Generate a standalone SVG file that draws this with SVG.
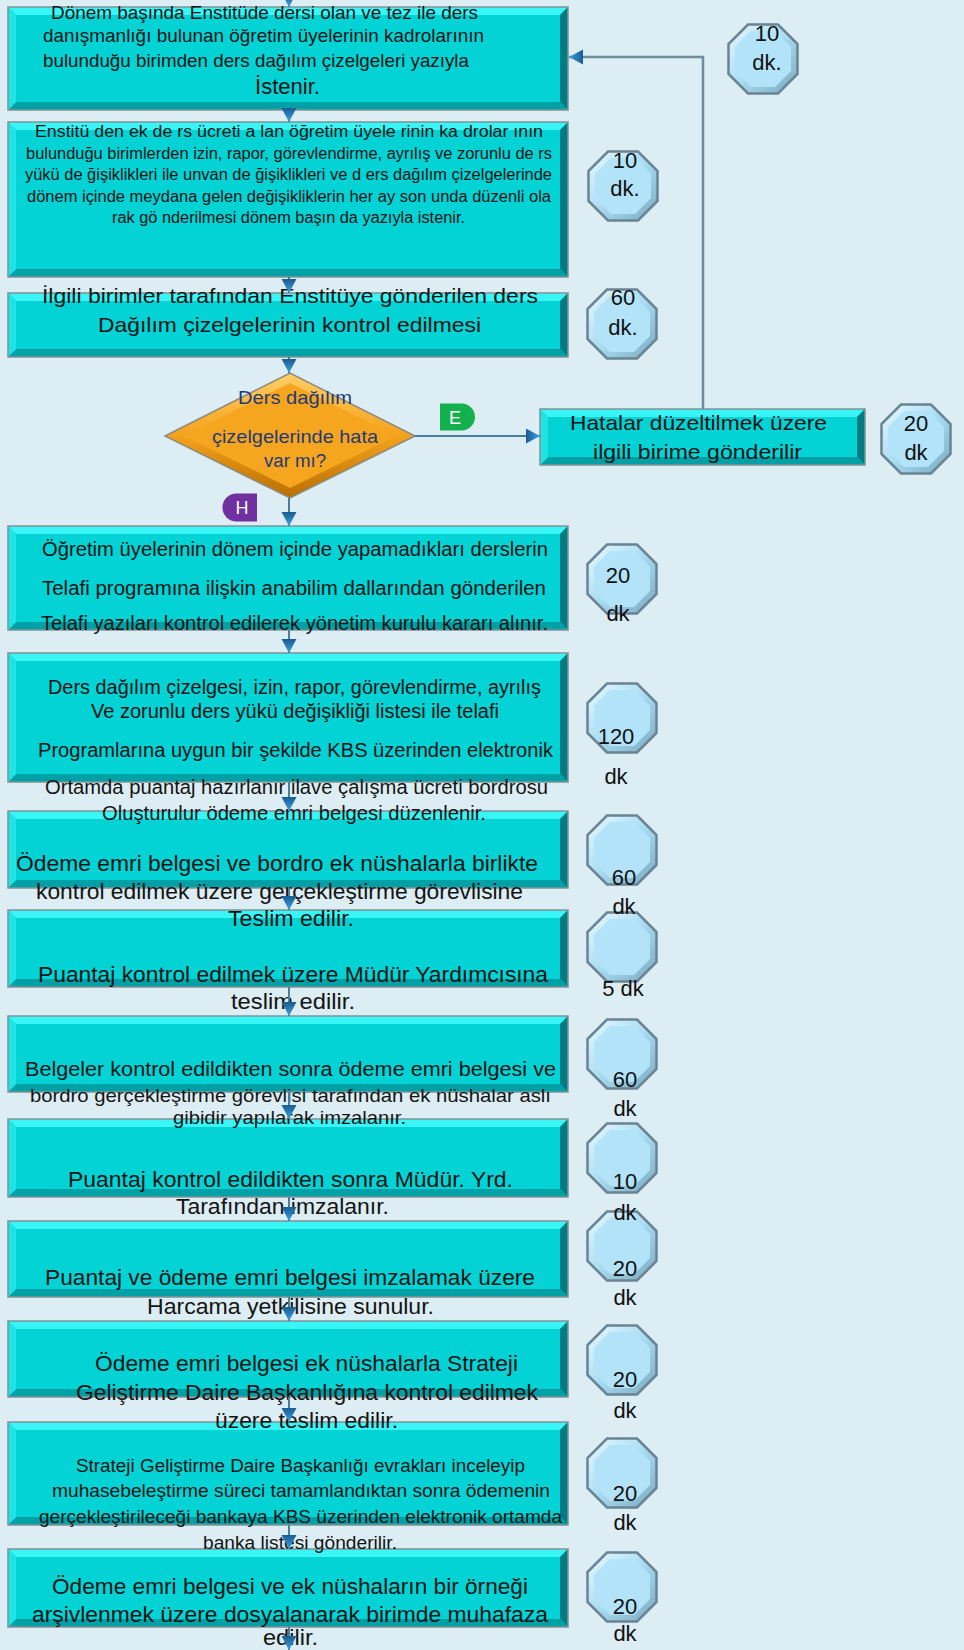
<svg xmlns="http://www.w3.org/2000/svg" xmlns:xlink="http://www.w3.org/1999/xlink" width="964" height="1650" viewBox="0 0 964 1650">
<defs>
<style>
.bx{fill:#03d3d5;}
.bo{fill:none;stroke:#7f9497;stroke-width:1.5;}
.bt{fill:#3af5f6;}
.bl{fill:#1ee4e6;}
.br{fill:#007d83;}
.bb{fill:#00a1a6;}
.t{font-family:"Liberation Sans",Arial,sans-serif;fill:#141414;dominant-baseline:central;}
.ot{font-family:"Liberation Sans",Arial,sans-serif;fill:#111;font-size:22px;text-anchor:middle;dominant-baseline:central;}
.c{fill:none;stroke:#4a7c9c;stroke-width:2;marker-end:url(#ah);}
.lbl{font-family:"Liberation Sans",Arial,sans-serif;fill:#fff;font-size:18px;text-anchor:middle;dominant-baseline:central;}
</style>
<linearGradient id="octG" x1="0" y1="0" x2="1" y2="1">
<stop offset="0" stop-color="#eafaff"/>
<stop offset="0.5" stop-color="#a8dcf2"/>
<stop offset="1" stop-color="#78a8bd"/>
</linearGradient>
<linearGradient id="dmG" x1="0" y1="0" x2="0" y2="1">
<stop offset="0" stop-color="#ffcf66"/>
<stop offset="0.5" stop-color="#f5a21c"/>
<stop offset="1" stop-color="#b96f00"/>
</linearGradient>
<linearGradient id="ahG" x1="0" y1="0" x2="1" y2="0">
<stop offset="0" stop-color="#1a5c92"/>
<stop offset="1" stop-color="#3aa2e0"/>
</linearGradient>
<marker id="ah" markerUnits="userSpaceOnUse" markerWidth="16" markerHeight="16" refX="14" refY="7.5" orient="auto">
<path d="M0,0 L14,7.5 L0,15 z" fill="url(#ahG)"/>
</marker>
<symbol id="oct" viewBox="0 0 72 72">
<polygon points="21,1.5 51,1.5 70.5,21 70.5,51 51,70.5 21,70.5 1.5,51 1.5,21" fill="url(#octG)" stroke="#6a8494" stroke-width="2.5"/>
<polygon points="24,8 48,8 64,24 64,48 48,64 24,64 8,48 8,24" fill="#b2e3f8"/>
</symbol>
</defs>
<rect width="964" height="1650" fill="#dcedf3"/>

<g id="time-13"><use xlink:href="#oct" x="586" y="1551" width="72" height="72"/><text class="ot" x="625" y="1606">20</text><text class="ot" x="625" y="1633">dk</text></g>
<g id="time-12"><use xlink:href="#oct" x="586" y="1437" width="72" height="72"/><text class="ot" x="625" y="1493">20</text><text class="ot" x="625" y="1522">dk</text></g>
<g id="time-11"><use xlink:href="#oct" x="586" y="1324" width="72" height="72"/><text class="ot" x="625" y="1379">20</text><text class="ot" x="625" y="1410">dk</text></g>
<g id="time-10"><use xlink:href="#oct" x="586" y="1210" width="72" height="72"/><text class="ot" x="625" y="1268">20</text><text class="ot" x="625" y="1297">dk</text></g>
<g id="time-9"><use xlink:href="#oct" x="586" y="1122" width="72" height="72"/><text class="ot" x="625" y="1181">10</text><text class="ot" x="625" y="1212">dk</text></g>
<g id="time-8"><use xlink:href="#oct" x="586" y="1018" width="72" height="72"/><text class="ot" x="625" y="1079">60</text><text class="ot" x="625" y="1108">dk</text></g>
<g id="time-7"><use xlink:href="#oct" x="586" y="911" width="72" height="72"/><text class="ot" x="623" y="988">5 dk</text></g>
<g id="time-6"><use xlink:href="#oct" x="586" y="814" width="72" height="72"/><text class="ot" x="624" y="877">60</text><text class="ot" x="624" y="906">dk</text></g>
<g id="time-5"><use xlink:href="#oct" x="586" y="682" width="72" height="72"/><text class="ot" x="616" y="736">120</text><text class="ot" x="616" y="776">dk</text></g>
<g id="time-4"><use xlink:href="#oct" x="586" y="543" width="72" height="72"/><text class="ot" x="618" y="575">20</text><text class="ot" x="618" y="613">dk</text></g>
<g id="time-err"><use xlink:href="#oct" x="880" y="403" width="72" height="72"/><text class="ot" x="916" y="423">20</text><text class="ot" x="916" y="452">dk</text></g>
<g id="time-3"><use xlink:href="#oct" x="586" y="287" width="72" height="74"/><text class="ot" x="623" y="297">60</text><text class="ot" x="623" y="327">dk.</text></g>
<g id="time-2"><use xlink:href="#oct" x="587" y="150" width="72" height="72"/><text class="ot" x="625" y="160">10</text><text class="ot" x="625" y="188">dk.</text></g>
<g id="time-1"><use xlink:href="#oct" x="727" y="23" width="72" height="72"/><text class="ot" x="767" y="33">10</text><text class="ot" x="767" y="62">dk.</text></g>

<g id="step-13">
<rect class="bx" x="8" y="1549" width="560" height="78"/>
<path class="bt" d="M8,1549h560l-8,8h-544z"/><path class="br" d="M568,1549v78l-8,-8v-62z"/><path class="bb" d="M8,1627h560l-8,-8h-544z"/><path class="bl" d="M8,1549v78l8,-8v-62z"/>
<rect class="bo" x="8" y="1549" width="560" height="78"/>
<text class="t" font-size="21.5" x="52" y="1587" textLength="476" lengthAdjust="spacingAndGlyphs">Ödeme emri belgesi ve ek nüshaların bir örneği</text>
<text class="t" font-size="21.5" x="32" y="1615" textLength="516" lengthAdjust="spacingAndGlyphs">arşivlenmek üzere dosyalanarak birimde muhafaza</text>
<text class="t" font-size="21.5" x="263" y="1638" textLength="55" lengthAdjust="spacingAndGlyphs">edilir.</text>
</g>
<g id="step-12">
<rect class="bx" x="8" y="1422" width="560" height="103"/>
<path class="bt" d="M8,1422h560l-8,8h-544z"/><path class="br" d="M568,1422v103l-8,-8v-87z"/><path class="bb" d="M8,1525h560l-8,-8h-544z"/><path class="bl" d="M8,1422v103l8,-8v-87z"/>
<rect class="bo" x="8" y="1422" width="560" height="103"/>
<text class="t" font-size="17.5" x="76" y="1466" textLength="449" lengthAdjust="spacingAndGlyphs">Strateji Geliştirme Daire Başkanlığı evrakları inceleyip</text>
<text class="t" font-size="17.5" x="52" y="1491" textLength="498" lengthAdjust="spacingAndGlyphs">muhasebeleştirme süreci tamamlandıktan sonra ödemenin</text>
<text class="t" font-size="17.5" x="39" y="1517" textLength="523" lengthAdjust="spacingAndGlyphs">gerçekleştirileceği bankaya KBS üzerinden elektronik ortamda</text>
<text class="t" font-size="17.5" x="203" y="1543" textLength="194" lengthAdjust="spacingAndGlyphs">banka listesi gönderilir.</text>
</g>
<g id="step-11">
<rect class="bx" x="8" y="1321" width="560" height="76"/>
<path class="bt" d="M8,1321h560l-8,8h-544z"/><path class="br" d="M568,1321v76l-8,-8v-60z"/><path class="bb" d="M8,1397h560l-8,-8h-544z"/><path class="bl" d="M8,1321v76l8,-8v-60z"/>
<rect class="bo" x="8" y="1321" width="560" height="76"/>
<text class="t" font-size="21.5" x="95" y="1364" textLength="423" lengthAdjust="spacingAndGlyphs">Ödeme emri belgesi ek nüshalarla Strateji</text>
<text class="t" font-size="21.5" x="76" y="1393" textLength="462" lengthAdjust="spacingAndGlyphs">Geliştirme Daire Başkanlığına kontrol edilmek</text>
<text class="t" font-size="21.5" x="215" y="1421" textLength="183" lengthAdjust="spacingAndGlyphs">üzere teslim edilir.</text>
</g>
<g id="step-10">
<rect class="bx" x="8" y="1221" width="560" height="76"/>
<path class="bt" d="M8,1221h560l-8,8h-544z"/><path class="br" d="M568,1221v76l-8,-8v-60z"/><path class="bb" d="M8,1297h560l-8,-8h-544z"/><path class="bl" d="M8,1221v76l8,-8v-60z"/>
<rect class="bo" x="8" y="1221" width="560" height="76"/>
<text class="t" font-size="21.5" x="45" y="1278" textLength="490" lengthAdjust="spacingAndGlyphs">Puantaj ve ödeme emri belgesi imzalamak üzere</text>
<text class="t" font-size="21.5" x="147" y="1307" textLength="287" lengthAdjust="spacingAndGlyphs">Harcama yetkilisine sunulur.</text>
</g>
<g id="step-9">
<rect class="bx" x="8" y="1119" width="560" height="78"/>
<path class="bt" d="M8,1119h560l-8,8h-544z"/><path class="br" d="M568,1119v78l-8,-8v-62z"/><path class="bb" d="M8,1197h560l-8,-8h-544z"/><path class="bl" d="M8,1119v78l8,-8v-62z"/>
<rect class="bo" x="8" y="1119" width="560" height="78"/>
<text class="t" font-size="21.5" x="68" y="1180" textLength="445" lengthAdjust="spacingAndGlyphs">Puantaj kontrol edildikten sonra Müdür. Yrd.</text>
<text class="t" font-size="21.5" x="176" y="1207" textLength="213" lengthAdjust="spacingAndGlyphs">Tarafından imzalanır.</text>
</g>
<g id="step-8">
<rect class="bx" x="8" y="1016" width="560" height="76"/>
<path class="bt" d="M8,1016h560l-8,8h-544z"/><path class="br" d="M568,1016v76l-8,-8v-60z"/><path class="bb" d="M8,1092h560l-8,-8h-544z"/><path class="bl" d="M8,1016v76l8,-8v-60z"/>
<rect class="bo" x="8" y="1016" width="560" height="76"/>
<text class="t" font-size="19.5" x="25" y="1069" textLength="531" lengthAdjust="spacingAndGlyphs">Belgeler kontrol edildikten sonra ödeme emri belgesi ve</text>
<text class="t" font-size="18.5" x="30" y="1095" textLength="521" lengthAdjust="spacingAndGlyphs">bordro gerçekleştirme görevlisi tarafından ek nüshalar aslı</text>
<text class="t" font-size="18.5" x="173" y="1117" textLength="233" lengthAdjust="spacingAndGlyphs">gibidir yapılarak imzalanır.</text>
</g>
<g id="step-7">
<rect class="bx" x="8" y="910" width="560" height="77"/>
<path class="bt" d="M8,910h560l-8,8h-544z"/><path class="br" d="M568,910v77l-8,-8v-61z"/><path class="bb" d="M8,987h560l-8,-8h-544z"/><path class="bl" d="M8,910v77l8,-8v-61z"/>
<rect class="bo" x="8" y="910" width="560" height="77"/>
<text class="t" font-size="21.5" x="38" y="975" textLength="510" lengthAdjust="spacingAndGlyphs">Puantaj kontrol edilmek üzere Müdür Yardımcısına</text>
<text class="t" font-size="21.5" x="231" y="1002" textLength="124" lengthAdjust="spacingAndGlyphs">teslim edilir.</text>
</g>
<g id="step-6">
<rect class="bx" x="8" y="811" width="560" height="77"/>
<path class="bt" d="M8,811h560l-8,8h-544z"/><path class="br" d="M568,811v77l-8,-8v-61z"/><path class="bb" d="M8,888h560l-8,-8h-544z"/><path class="bl" d="M8,811v77l8,-8v-61z"/>
<rect class="bo" x="8" y="811" width="560" height="77"/>
<text class="t" font-size="21.5" x="16" y="864" textLength="522" lengthAdjust="spacingAndGlyphs">Ödeme emri belgesi ve bordro ek nüshalarla birlikte</text>
<text class="t" font-size="21.5" x="36" y="892" textLength="487" lengthAdjust="spacingAndGlyphs">kontrol edilmek üzere gerçekleştirme görevlisine</text>
<text class="t" font-size="21.5" x="228" y="919" textLength="126" lengthAdjust="spacingAndGlyphs">Teslim edilir.</text>
</g>
<g id="step-5">
<rect class="bx" x="8" y="653" width="560" height="129"/>
<path class="bt" d="M8,653h560l-8,8h-544z"/><path class="br" d="M568,653v129l-8,-8v-113z"/><path class="bb" d="M8,782h560l-8,-8h-544z"/><path class="bl" d="M8,653v129l8,-8v-113z"/>
<rect class="bo" x="8" y="653" width="560" height="129"/>
<text class="t" font-size="19.5" x="48" y="687" textLength="493" lengthAdjust="spacingAndGlyphs">Ders dağılım çizelgesi, izin, rapor, görevlendirme, ayrılış</text>
<text class="t" font-size="19.5" x="91" y="711" textLength="408" lengthAdjust="spacingAndGlyphs">Ve zorunlu ders yükü değişikliği listesi ile telafi</text>
<text class="t" font-size="19.5" x="38" y="750" textLength="515" lengthAdjust="spacingAndGlyphs">Programlarına uygun bir şekilde KBS üzerinden elektronik</text>
<text class="t" font-size="19.5" x="45" y="787" textLength="503" lengthAdjust="spacingAndGlyphs">Ortamda puantaj hazırlanır ilave çalışma ücreti bordrosu</text>
<text class="t" font-size="19.5" x="102" y="813" textLength="384" lengthAdjust="spacingAndGlyphs">Oluşturulur ödeme emri belgesi düzenlenir.</text>
</g>
<g id="step-4">
<rect class="bx" x="8" y="526" width="560" height="104"/>
<path class="bt" d="M8,526h560l-8,8h-544z"/><path class="br" d="M568,526v104l-8,-8v-88z"/><path class="bb" d="M8,630h560l-8,-8h-544z"/><path class="bl" d="M8,526v104l8,-8v-88z"/>
<rect class="bo" x="8" y="526" width="560" height="104"/>
<text class="t" font-size="19.5" x="42" y="549" textLength="506" lengthAdjust="spacingAndGlyphs">Öğretim üyelerinin dönem içinde yapamadıkları derslerin</text>
<text class="t" font-size="19.5" x="42" y="588" textLength="504" lengthAdjust="spacingAndGlyphs">Telafi programına ilişkin anabilim dallarından gönderilen</text>
<text class="t" font-size="19.5" x="41" y="623" textLength="507" lengthAdjust="spacingAndGlyphs">Telafi yazıları kontrol edilerek yönetim kurulu kararı alınır.</text>
</g>
<g id="step-error">
<rect class="bx" x="540" y="409" width="325" height="56"/>
<path class="bt" d="M540,409h325l-8,8h-309z"/><path class="br" d="M865,409v56l-8,-8v-40z"/><path class="bb" d="M540,465h325l-8,-8h-309z"/><path class="bl" d="M540,409v56l8,-8v-40z"/>
<rect class="bo" x="540" y="409" width="325" height="56"/>
<text class="t" font-size="21" x="570" y="422" textLength="257" lengthAdjust="spacingAndGlyphs">Hatalar düzeltilmek üzere</text>
<text class="t" font-size="21" x="593" y="451" textLength="209" lengthAdjust="spacingAndGlyphs">ilgili birime gönderilir</text>
</g>
<g id="decision">
<polygon points="165,436 290,373 415,436 290,498" fill="url(#dmG)" stroke="#8d8a80" stroke-width="1.5"/>
<polygon points="184,436 290,383 396,436 290,488" fill="#f6a51e"/>
<text class="t" font-size="19" style="fill:#1f3a78" x="238" y="397" textLength="114" lengthAdjust="spacingAndGlyphs">Ders dağılım</text>
<text class="t" font-size="19" style="fill:#1f3a78" x="212" y="436" textLength="166" lengthAdjust="spacingAndGlyphs">çizelgelerinde hata</text>
<text class="t" font-size="19" style="fill:#1f3a78" x="264" y="460" textLength="62" lengthAdjust="spacingAndGlyphs">var mı?</text>
</g>
<g id="step-3">
<rect class="bx" x="8" y="293" width="560" height="64"/>
<path class="bt" d="M8,293h560l-8,8h-544z"/><path class="br" d="M568,293v64l-8,-8v-48z"/><path class="bb" d="M8,357h560l-8,-8h-544z"/><path class="bl" d="M8,293v64l8,-8v-48z"/>
<rect class="bo" x="8" y="293" width="560" height="64"/>
<text class="t" font-size="21" x="42" y="295" textLength="496" lengthAdjust="spacingAndGlyphs">İlgili birimler tarafından Enstitüye gönderilen ders</text>
<text class="t" font-size="21" x="98" y="324" textLength="383" lengthAdjust="spacingAndGlyphs">Dağılım çizelgelerinin kontrol edilmesi</text>
</g>
<g id="step-2">
<rect class="bx" x="8" y="122" width="560" height="155"/>
<path class="bt" d="M8,122h560l-8,8h-544z"/><path class="br" d="M568,122v155l-8,-8v-139z"/><path class="bb" d="M8,277h560l-8,-8h-544z"/><path class="bl" d="M8,122v155l8,-8v-139z"/>
<rect class="bo" x="8" y="122" width="560" height="155"/>
<text class="t" font-size="16" x="35" y="131" textLength="508" lengthAdjust="spacingAndGlyphs">Enstitü den ek de rs ücreti a lan öğretim üyele rinin ka drolar ının</text>
<text class="t" font-size="16" x="26" y="153" textLength="526" lengthAdjust="spacingAndGlyphs">bulunduğu birimlerden izin, rapor, görevlendirme, ayrılış ve zorunlu de rs</text>
<text class="t" font-size="16" x="25" y="174" textLength="527" lengthAdjust="spacingAndGlyphs">yükü de ğişiklikleri ile unvan de ğişiklikleri ve d ers dağılım çizelgelerinde</text>
<text class="t" font-size="16" x="27" y="196" textLength="524" lengthAdjust="spacingAndGlyphs">dönem içinde meydana gelen değişikliklerin her ay son unda düzenli ola</text>
<text class="t" font-size="16" x="112" y="217" textLength="353" lengthAdjust="spacingAndGlyphs">rak gö nderilmesi dönem başın da yazıyla istenir.</text>
</g>
<g id="step-1">
<rect class="bx" x="8" y="7" width="560" height="103"/>
<path class="bt" d="M8,7h560l-8,8h-544z"/><path class="br" d="M568,7v103l-8,-8v-87z"/><path class="bb" d="M8,110h560l-8,-8h-544z"/><path class="bl" d="M8,7v103l8,-8v-87z"/>
<rect class="bo" x="8" y="7" width="560" height="103"/>
<text class="t" font-size="19" x="51" y="12" textLength="427" lengthAdjust="spacingAndGlyphs">Dönem başında Enstitüde dersi olan ve tez ile ders</text>
<text class="t" font-size="19" x="43" y="35" textLength="441" lengthAdjust="spacingAndGlyphs">danışmanlığı bulunan öğretim üyelerinin kadrolarının</text>
<text class="t" font-size="19" x="43" y="60" textLength="426" lengthAdjust="spacingAndGlyphs">bulunduğu birimden ders dağılım çizelgeleri yazıyla</text>
<text class="t" font-size="22" x="255" y="86" textLength="65" lengthAdjust="spacingAndGlyphs">İstenir.</text>
</g>

<g id="connectors">
<path class="c" d="M289,-10V7"/>
<path class="c" d="M289,110V122"/>
<path class="c" d="M289,277V293"/>
<path class="c" d="M289,357V373"/>
<path class="c" d="M289,498V526"/>
<path class="c" d="M289,630V653"/>
<path class="c" d="M289,782V811"/>
<path class="c" d="M289,888V910"/>
<path class="c" d="M289,987V1016"/>
<path class="c" d="M289,1092V1119"/>
<path class="c" d="M289,1197V1221"/>
<path class="c" d="M289,1297V1321"/>
<path class="c" d="M289,1397V1422"/>
<path class="c" d="M289,1525V1549"/>
<path class="c" d="M289,1627V1650"/>
<path class="c" d="M415,436H540"/>
<path class="c" style="stroke:#6d8c9c;stroke-width:2.5" d="M703,409V57H569"/>
<g id="label-E"><path d="M440,403.5h21.5a13.5,13.5 0 0 1 0,27h-21.5z" fill="#13b04e"/><text class="lbl" x="455" y="417.5">E</text></g>
<g id="label-H"><path d="M257,493.5v28h-20.5a14,14 0 0 1 0,-28z" fill="#7030a0"/><text class="lbl" x="242" y="508">H</text></g>
</g>
</svg>
